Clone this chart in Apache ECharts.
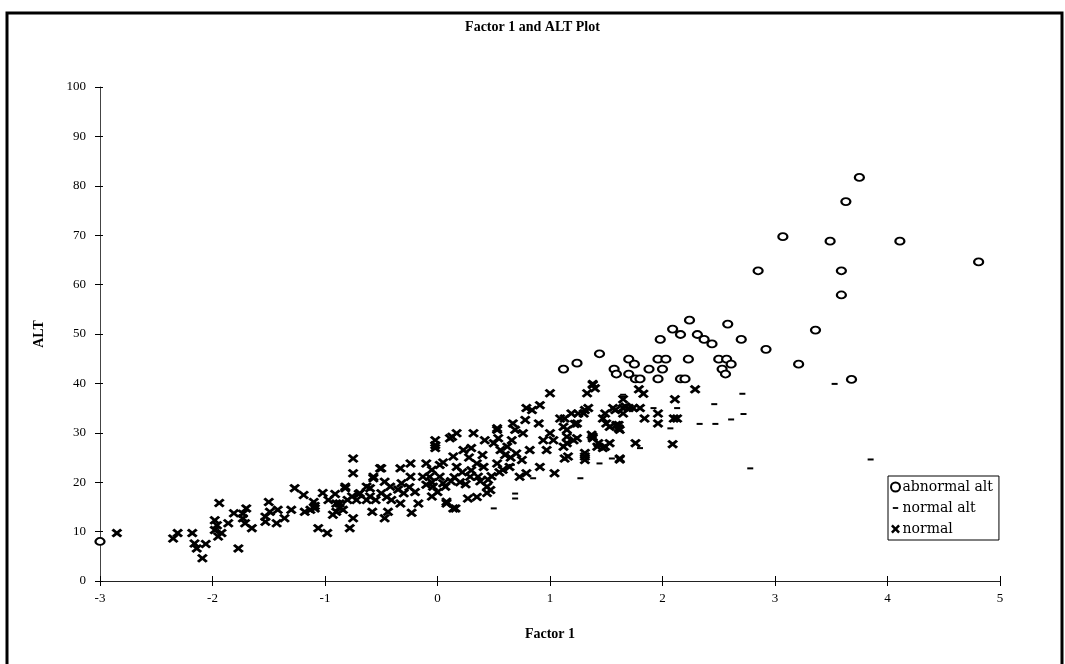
<!DOCTYPE html>
<html>
<head>
<meta charset="utf-8">
<script src="https://cdn.jsdelivr.net/npm/echarts@6/dist/echarts.min.js"></script>
<style>
  html, body { margin: 0; padding: 0; background: #fff; }
  #chart { width: 1065px; height: 664px; }
</style>
</head>
<body>
<div id="chart"></div>
<script>
var titleText = 'Factor 1 and ALT Plot';
var legendNames = ['abnormal alt', 'normal alt', 'normal'];

// [Factor 1, ALT]
var abnormalAlt = [
  [-3.0,8],[1.12,42.9],[1.24,44.1],[1.44,46.0],[1.57,42.9],[1.59,41.9],[1.70,44.9],[1.75,43.9],
  [1.70,41.9],[1.76,40.9],[1.80,40.9],[1.88,42.9],[1.98,48.9],[1.96,44.9],[2.03,44.9],[2.0,42.9],
  [1.96,40.9],[2.09,51.0],[2.16,49.9],[2.24,52.8],[2.23,44.9],[2.16,40.9],[2.20,40.9],[2.31,49.9],
  [2.37,48.9],[2.44,48.0],[2.50,44.9],[2.57,44.9],[2.61,43.9],[2.53,42.9],[2.56,41.9],[2.58,52.0],
  [2.70,48.9],[2.92,46.9],[2.85,62.8],[3.07,69.7],[3.21,43.9],[3.36,50.8],[3.49,68.8],[3.59,62.8],
  [3.59,57.9],[3.63,76.8],[3.68,40.8],[3.75,81.7],[4.11,68.8],[4.81,64.6],[5.04,95.9]
];

var normalAlt = [
  [0.50,14.7],[0.69,17.7],[0.69,16.7],[1.27,20.8],[1.44,23.8],[1.55,24.8],[0.66,23.5],[1.64,37.3],
  [1.80,26.9],[1.92,35.0],[2.13,35.0],[2.07,30.9],[2.46,35.8],[2.33,31.8],[2.47,31.8],[2.61,32.7],
  [2.71,37.9],[2.72,33.8],[2.78,22.8],[3.53,39.9],[3.85,24.6],[0.85,20.8],[1.65,37.7]
];

var normal = [
  [-2.85,9.7],[-2.35,8.6],[-2.31,9.7],[-2.18,9.7],[-2.16,7.6],[-2.14,6.6],[-2.06,7.5],[-2.09,4.6],
  [-1.98,10.3],[-1.96,11.3],[-1.98,12.3],[-1.95,9.0],[-1.92,9.7],[-1.94,15.8],[-1.86,11.7],[-1.81,13.7],
  [-1.77,6.6],[-1.73,13.6],[-1.73,12.7],[-1.70,14.7],[-1.71,11.7],[-1.65,10.7],[-1.53,13.0],[-1.53,12.0],
  [-1.50,16.0],[-1.49,14.0],[-1.43,11.7],[-1.42,14.4],[-1.36,12.7],[-1.30,14.4],[-1.27,18.8],[-1.19,17.4],
  [-1.18,14.0],[-1.13,14.4],[-1.10,16.0],[-1.09,14.7],[-1.06,10.7],[-1.02,17.8],[-0.98,9.7],[-0.97,16.4],
  [-0.91,17.6],[-0.90,15.7],[-0.87,14.9],[-0.82,18.8],[-0.78,10.7],[-0.75,12.7],[-0.75,21.8],[-0.75,24.8],
  [-0.70,17.6],[-0.63,16.4],[-0.58,14.0],[-0.57,20.8],[-0.60,18.8],[-1.09,15.2],[-0.90,14.0],[-0.80,16.4],
  [-0.72,16.4],
  [-0.82,19.1],[-0.87,15.7],[-0.84,14.4],[-0.93,13.4],[-0.76,17.1],[-0.69,17.75],[-0.63,19.1],[-0.60,17.1],
  [-0.57,21.1],[-0.51,22.8],[-0.50,17.75],[-0.47,20.1],[-0.42,19.1],[-0.41,16.4],[-0.44,14.0],[-0.33,22.8],
  [-0.32,19.8],[-0.30,17.75],[-0.33,15.7],[-0.24,23.8],[-0.24,21.1],[-0.17,15.7],[-0.23,13.8],[-0.13,21.1],
  [-0.10,23.8],[-0.07,21.1],[-0.04,19.1],[-0.05,17.1],[-0.02,28.5],[-0.02,27.5],[-0.02,26.9],[0.02,23.5],
  [0.02,21.1],[0.07,19.1],[0.08,16.05],[0.16,14.7],[0.11,28.9],[0.17,29.9],[0.14,25.2],[0.17,23.1],
  [0.23,26.5],[0.27,16.7],[0.32,29.9],[0.30,26.9],[0.29,21.1],[0.35,23.8],[0.36,21.1],[0.42,28.5],
  [0.41,23.1],[0.44,19.1],[0.47,18.4],[0.50,27.9],[0.53,30.6],[0.54,28.9],[0.56,26.5],[0.53,23.8],
  [0.58,22.5],[0.62,27.2],[0.66,28.5],[0.67,31.9],[0.69,30.6],[0.64,23.1],[0.75,24.5],[0.78,32.6],
  [0.76,29.9],[0.73,21.1],[0.79,21.8],[0.82,26.5],[0.84,34.6],[0.91,35.6],[0.90,31.9],[0.91,23.1],
  [1.0,38.0],[0.94,28.5],[0.97,26.5],[1.0,29.9],[1.03,28.5],[1.04,21.8],[1.09,32.9],[1.12,27.2],
  [1.15,30.6],[1.16,25.2],[1.21,28.5],[1.24,31.9],[1.25,33.9],[1.31,34.6],[1.33,38.0],[1.38,39.7],
  [1.40,39.0],[1.31,25.2],[1.38,29.2],[1.42,27.2],[1.47,32.9],[1.49,27.2],[1.53,31.2],[1.58,34.6],
  [1.59,31.6],[1.62,24.8],[1.65,33.9],[1.67,35.3],[1.62,30.6],
  [-0.50,22.8],[0.13,29.2],[0.53,30.9],[0.79,35.0],[0.14,14.7],[0.08,15.7],[-0.47,12.7],
  [-0.10,19.5],[-0.05,20.0],[0.05,19.8],[0.12,20.2],[0.20,20.0],[0.25,19.6],[0.38,20.2],[0.45,20.5],
  [0.48,21.2],[0.55,22.0],[0.15,21.0],[0.22,22.0],[0.30,22.4],[-0.20,18.0],[-0.25,19.0],[-0.35,18.5],
  [-0.45,17.0],[-0.55,16.4],[0.0,18.0],[0.35,17.0],[0.44,17.8],[0.60,25.5],[0.65,25.0],[0.70,25.8],
  [0.40,25.5],[0.28,25.0],[-0.05,22.5],[0.05,24.0],
  [1.38,39.9],[1.79,38.8],[1.83,37.9],[2.29,38.8],[2.11,36.8],[1.65,36.8],[1.65,35.0],[1.70,35.0],
  [1.74,35.0],[1.56,35.0],[1.80,35.0],[1.84,32.9],[1.96,33.9],[1.96,31.9],[2.10,32.9],[2.13,32.9],
  [1.49,33.9],[1.50,31.9],[1.61,31.6],[1.61,30.9],[1.34,35.0],[1.30,33.9],[1.19,33.9],[1.13,32.9],
  [1.12,31.2],[1.22,31.8],[1.15,29.2],[1.24,28.9],[1.37,29.6],[1.38,28.9],[1.43,27.9],[1.47,26.9],
  [1.53,27.9],[1.15,27.9],[1.13,24.8],[1.31,25.9],[1.31,24.5],[1.62,24.6],[1.76,27.9],[2.09,27.7]
];

var serif = '"Liberation Serif", "DejaVu Serif", serif';
var crossPath = 'path://M0,2L2,0L5,3L8,0L10,2L7,5L10,8L8,10L5,7L2,10L0,8L3,5Z';
// short dash with invisible corners so it keeps its size in the legend box
var dashIcon = 'path://M0,0L0,0M10,10L10,10M2,4L8,4L8,6L2,6Z';

var chart = echarts.init(document.getElementById('chart'));
chart.setOption({
  backgroundColor: '#fff',
  animation: false,
  title: {
    text: titleText,
    left: 'center',
    top: 15,
    textStyle: { fontFamily: serif, fontSize: 14, fontWeight: 'bold', color: '#000' }
  },
  graphic: [{
    type: 'rect',
    shape: { x: 7, y: 13, width: 1055, height: 680 },
    style: { fill: 'none', stroke: '#000', lineWidth: 3 },
    silent: true
  }],
  legend: {
    orient: 'vertical',
    left: 888,
    top: 476,
    data: [
      { name: legendNames[0] },
      { name: legendNames[1], icon: dashIcon },
      { name: legendNames[2] }
    ],
    backgroundColor: '#fff',
    borderColor: '#000',
    borderWidth: 1,
    borderRadius: 0,
    padding: [4, 6, 4, 2],
    itemGap: 7,
    itemWidth: 10,
    itemHeight: 9,
    textStyle: {
      fontFamily: '"DejaVu Serif", serif', fontSize: 14, color: '#000',
      lineHeight: 14, padding: [0, 0, 0, -3]
    }
  },
  grid: { left: 100, right: 65, top: 87, bottom: 83 },
  xAxis: [{
    type: 'value',
    min: -3, max: 5, interval: 1,
    name: 'Factor 1',
    nameLocation: 'middle',
    nameGap: 46,
    nameTextStyle: { fontFamily: serif, fontSize: 14, fontWeight: 'bold', color: '#000' },
    splitLine: { show: false },
    axisLine: { onZero: false, lineStyle: { color: '#222', width: 1 } },
    axisTick: { length: 5, lineStyle: { color: '#000' } },
    axisLabel: { fontFamily: serif, fontSize: 13, color: '#000', margin: 11 }
  }, {
    type: 'value',
    position: 'bottom',
    min: -3, max: 5, interval: 1,
    splitLine: { show: false },
    axisLine: { show: false, onZero: false },
    axisTick: { inside: true, length: 5, lineStyle: { color: '#000' } },
    axisLabel: { show: false }
  }],
  yAxis: [{
    type: 'value',
    min: 0, max: 100, interval: 10,
    name: 'ALT',
    nameLocation: 'middle',
    nameGap: 54,
    nameTextStyle: { fontFamily: serif, fontSize: 14, fontWeight: 'bold', color: '#000' },
    splitLine: { show: false },
    axisLine: { onZero: false, lineStyle: { color: '#444', width: 1 } },
    axisTick: { length: 5, lineStyle: { color: '#000' } },
    axisLabel: { fontFamily: serif, fontSize: 13, color: '#000', margin: 14 }
  }, {
    type: 'value',
    position: 'left',
    min: 0, max: 100, interval: 10,
    splitLine: { show: false },
    axisLine: { show: false, onZero: false },
    axisTick: { inside: true, length: 3, lineStyle: { color: '#000' } },
    axisLabel: { show: false }
  }],
  series: [{
    name: 'normal',
    type: 'scatter',
    data: normal,
    symbol: crossPath,
    symbolSize: [11, 9],
    itemStyle: { color: '#000', opacity: 1 }
  }, {
    name: 'normal alt',
    type: 'scatter',
    data: normalAlt,
    symbol: 'rect',
    symbolSize: [6, 2],
    itemStyle: { color: '#000', opacity: 1 }
  }, {
    name: 'abnormal alt',
    type: 'scatter',
    data: abnormalAlt,
    symbol: 'emptyCircle',
    symbolSize: [9, 7],
    itemStyle: { color: '#000', borderColor: '#000', borderWidth: 1.6, opacity: 1 }
  }]
});
</script>
</body>
</html>
